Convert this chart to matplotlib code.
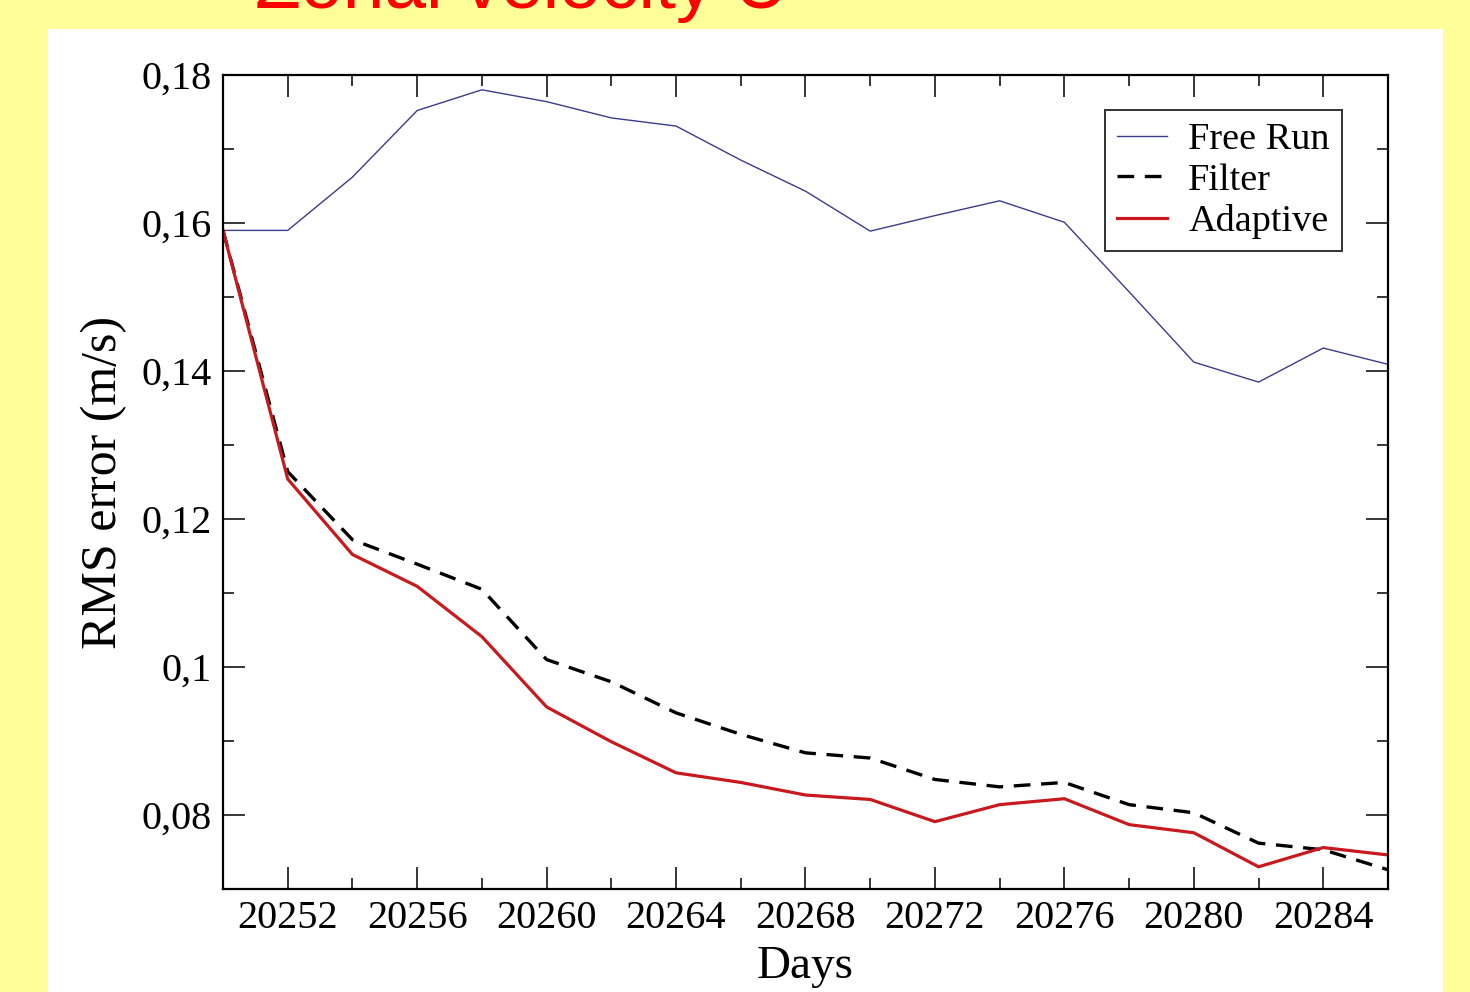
import numpy as np
import matplotlib.pyplot as plt
from matplotlib.patches import Rectangle
from matplotlib.ticker import MultipleLocator, FuncFormatter

plt.rcParams['font.family'] = ['Liberation Serif', 'DejaVu Serif']

# RMS error every 2 days
days = np.arange(20250, 20287, 2)
free_run = [0.1590, 0.1590, 0.1662, 0.1752, 0.1780, 0.1764, 0.1742, 0.1731,
            0.1685, 0.1643, 0.1589, 0.1610, 0.1630, 0.1601, 0.1507, 0.1412,
            0.1385, 0.1431, 0.1409]
filter_run = [0.1590, 0.1264, 0.1172, 0.1139, 0.1105, 0.1010, 0.0980, 0.0938,
              0.0909, 0.0884, 0.0877, 0.0848, 0.0838, 0.0844, 0.0814, 0.0803,
              0.0762, 0.0753, 0.0726]
adaptive = [0.1590, 0.1254, 0.1152, 0.1109, 0.1041, 0.0946, 0.0899, 0.0857,
            0.0844, 0.0827, 0.0821, 0.0791, 0.0814, 0.0822, 0.0787, 0.0776,
            0.0730, 0.0756, 0.0746]

fig = plt.figure(figsize=(14.7, 9.92), dpi=100)
fig.patch.set_facecolor('#ffff99')

# white slide panel behind the plot
panel = Rectangle((48 / 1470, 0), 1395 / 1470, 963 / 992,
                  transform=fig.transFigure, facecolor='white',
                  edgecolor='none', zorder=-10)
fig.add_artist(panel)

fig.text(255 / 1470, 984 / 992, 'Zonal velocity U', color='#ff0000',
         fontsize=54, family='Liberation Sans', ha='left', va='baseline')

ax = fig.add_axes([223 / 1470, 1 - 889 / 992, 1165 / 1470, 814 / 992])
ax.set_facecolor('white')

ax.plot(days, free_run, color='#3c3c8c', lw=1.0, label='Free Run')
ax.plot(days, filter_run, color='black', lw=2.4, ls=(0, (5, 3.2)), label='Filter')
ax.plot(days, adaptive, color='#c81a1e', lw=2.3, label='Adaptive')

ax.set_xlim(20250, 20286)
ax.set_ylim(0.07, 0.18)
ax.xaxis.set_major_locator(MultipleLocator(4))
ax.xaxis.set_minor_locator(MultipleLocator(2))
ax.yaxis.set_major_locator(MultipleLocator(0.02))
ax.yaxis.set_minor_locator(MultipleLocator(0.01))
ax.set_xticks(np.arange(20252, 20285, 4))
ax.yaxis.set_major_formatter(FuncFormatter(lambda v, p: f'{round(v, 4):g}'.replace('.', ',')))

ax.tick_params(which='both', direction='in', top=True, right=True,
               labelsize=29, width=1.1, colors='black')
ax.tick_params(which='major', length=16, pad=8)
ax.tick_params(which='minor', length=8)
for s in ax.spines.values():
    s.set_linewidth(1.6)

ax.set_xlabel('Days', fontsize=34, labelpad=6)
ax.set_ylabel('RMS error (m/s)', fontsize=36, labelpad=10)

leg = ax.legend(loc='upper right', bbox_to_anchor=(0.9605, 0.957), fontsize=27.5,
                frameon=True, fancybox=False, edgecolor='black',
                handlelength=1.3, handletextpad=0.55, labelspacing=0.16,
                borderpad=0.32, borderaxespad=0)
leg.get_frame().set_linewidth(1.4)

plt.savefig('out.png', dpi=100, facecolor=fig.get_facecolor())
